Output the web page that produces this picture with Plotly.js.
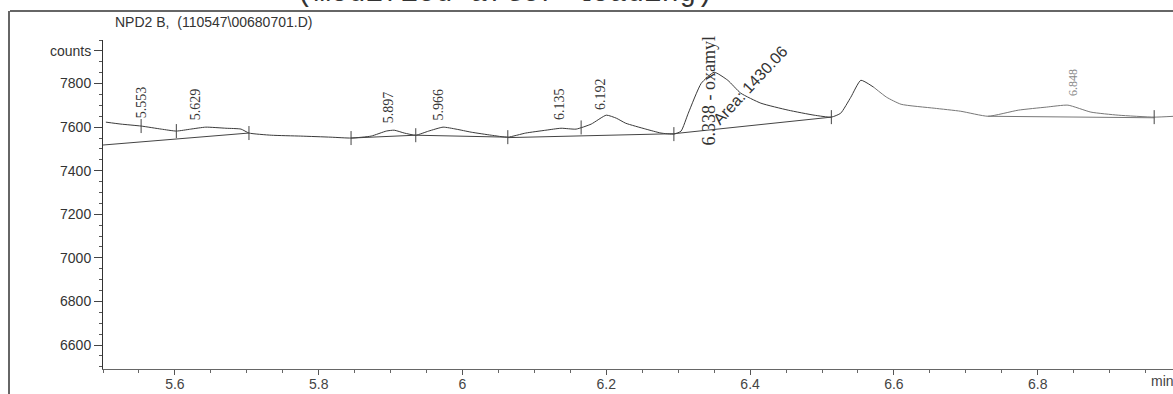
<!DOCTYPE html>
<html>
<head>
<meta charset="utf-8">
<script src="https://cdn.plot.ly/plotly-3.0.1.min.js"></script>
<style>html,body{margin:0;padding:0;background:#fff;}#chart{width:1173px;height:394px;}</style>
</head>
<body>
<div id="chart"></div>
<script>
// Retention time (min) and detector signal (counts)
const time = [5.504,5.525,5.553,5.581,5.602,5.622,5.643,5.671,5.692,5.703,5.734,5.775,5.817,5.845,5.873,5.894,5.905,5.919,5.935,5.953,5.973,5.991,6.012,6.040,6.063,6.088,6.116,6.137,6.158,6.179,6.200,6.214,6.227,6.255,6.276,6.294,6.304,6.314,6.332,6.350,6.369,6.387,6.415,6.453,6.489,6.513,6.526,6.540,6.554,6.572,6.590,6.610,6.656,6.693,6.731,6.773,6.812,6.842,6.874,6.912,6.962,6.990];
const counts = [7623,7614,7605,7591,7582,7591,7600,7595,7591,7573,7563,7559,7554,7550,7559,7582,7586,7573,7563,7582,7600,7591,7577,7563,7554,7573,7586,7595,7591,7614,7655,7641,7618,7591,7573,7568,7582,7664,7801,7852,7815,7756,7710,7678,7655,7646,7664,7737,7815,7783,7737,7705,7687,7673,7650,7678,7692,7701,7669,7655,7646,7650];

// Integration baselines: start/end time and counts
const baseStartT = [5.500, 5.845, 5.935, 6.063, 6.294, 6.731];
const baseStartC = [7518, 7550, 7563, 7552, 7570, 7650];
const baseEndT   = [5.703, 5.935, 6.063, 6.294, 6.513, 6.962];
const baseEndC   = [7573, 7563, 7554, 7570, 7646, 7643];

// Baseline tick marks (start/end of integration)
const tickTimes = [5.553, 5.602, 5.703, 5.845, 5.935, 6.063, 6.165, 6.294, 6.513, 6.962];

// Peak labels
const peakTimes = [5.553, 5.629, 5.897, 5.966, 6.135, 6.192];
const peakLabels = ['5.553', '5.629', '5.897', '5.966', '6.135', '6.192'];
const namedPeakTime = 6.338, namedPeakLabel = '6.338 - oxamyl', namedPeakArea = 'Area: 1430.06';
const minorPeakTime = 6.848, minorPeakLabel = '6.848';

// Axis ticks
const yTickVals = [6600, 6800, 7000, 7200, 7400, 7600, 7800, 7950];
const yTickText = ['6600', '6800', '7000', '7200', '7400', '7600', '7800', 'counts'];
const xTickVals = [5.6, 5.8, 6.0, 6.2, 6.4, 6.6, 6.8];
const xTickText = ['5.6', '5.8', '6', '6.2', '6.4', '6.6', '6.8'];

function interp(t) {
  for (let i = 0; i < time.length - 1; i++) {
    if (t >= time[i] && t <= time[i + 1]) {
      const f = (t - time[i]) / (time[i + 1] - time[i]);
      return counts[i] + f * (counts[i + 1] - counts[i]);
    }
  }
  return counts[counts.length - 1];
}

// split index where the printed trace gets fainter
let split = time.findIndex(t => t >= 6.572);

const traces = [];
traces.push({x: time.slice(0, split + 1), y: counts.slice(0, split + 1), type: 'scatter', mode: 'lines',
  line: {color: '#3a3a3a', width: 1, shape: 'spline', smoothing: 0.5}, hoverinfo: 'skip', showlegend: false});
traces.push({x: time.slice(split), y: counts.slice(split), type: 'scatter', mode: 'lines',
  line: {color: '#777', width: 1, shape: 'spline', smoothing: 0.5}, hoverinfo: 'skip', showlegend: false});
for (let i = 0; i < baseStartT.length; i++) {
  traces.push({x: [baseStartT[i], baseEndT[i]], y: [baseStartC[i], baseEndC[i]], type: 'scatter', mode: 'lines',
    line: {color: i === baseStartT.length - 1 ? '#777' : '#444', width: 1}, hoverinfo: 'skip', showlegend: false});
}
traces.push({x: tickTimes, y: tickTimes.map(interp), type: 'scatter', mode: 'markers',
  marker: {symbol: 'line-ns', size: 10, line: {color: '#444', width: 1}}, hoverinfo: 'skip', showlegend: false});

const W = 1173, H = 394, ml = 103, mt = 40, mb = 25;
const ph = H - mt - mb, pw = W - ml;
function px2x(px) { return (px - ml) / pw; }
function py2y(py) { return (H - mb - py) / ph; }

const ann = [];
peakTimes.forEach((t, i) => {
  ann.push({x: t, y: interp(t), xref: 'x', yref: 'y', text: peakLabels[i], showarrow: false,
    textangle: -90, xanchor: 'center', yanchor: 'bottom', yshift: 6,
    font: {family: 'Liberation Serif, serif', size: 14, color: '#333'}});
});
ann.push({x: namedPeakTime, y: 7504, xref: 'x', yref: 'y', text: namedPeakLabel, showarrow: false,
  textangle: -90, xanchor: 'center', yanchor: 'bottom', xshift: 4,
  font: {family: 'Liberation Serif, serif', size: 18, color: '#333'}});
ann.push({x: 6.400, y: 7792, xref: 'x', yref: 'y', text: namedPeakArea, showarrow: false,
  textangle: -47, xanchor: 'center', yanchor: 'middle',
  font: {family: 'Liberation Sans, Arial, sans-serif', size: 16, color: '#333'}});
ann.push({x: minorPeakTime, y: 7733, xref: 'x', yref: 'y', text: minorPeakLabel, showarrow: false,
  textangle: -90, xanchor: 'center', yanchor: 'bottom',
  font: {family: 'Liberation Serif, serif', size: 12, color: '#888'}});

ann.push({x: px2x(113), y: py2y(22), xref: 'paper', yref: 'paper', text: 'NPD2 B,  (110547\\00680701.D)',
  showarrow: false, xanchor: 'left', yanchor: 'middle',
  font: {family: 'Liberation Sans, Arial, sans-serif', size: 14, color: '#333'}});
ann.push({x: px2x(505), y: py2y(-6.5), xref: 'paper', yref: 'paper', text: '(modified after loading)',
  showarrow: false, xanchor: 'center', yanchor: 'middle',
  font: {family: 'Liberation Mono, Courier New, monospace', size: 29, color: '#333'}});
ann.push({x: px2x(1162), y: py2y(381), xref: 'paper', yref: 'paper', text: 'min',
  showarrow: false, xanchor: 'center', yanchor: 'middle',
  font: {family: 'Liberation Sans, Arial, sans-serif', size: 14, color: '#444'}});

const layout = {
  width: W, height: H,
  margin: {l: ml, r: 0, t: mt, b: mb, pad: 0},
  paper_bgcolor: '#fff', plot_bgcolor: '#fff',
  showlegend: false,
  xaxis: {range: [5.5, 5.5 + pw / 719], tickvals: xTickVals, ticktext: xTickText,
    showgrid: false, zeroline: false, showline: true, linecolor: '#666', linewidth: 1,
    ticks: 'outside', ticklen: 5, tickcolor: '#555', ticklabelstandoff: -3,
    tickfont: {family: 'Liberation Sans, Arial, sans-serif', size: 14, color: '#444'},
    minor: {dtick: 0.05, ticks: 'outside', ticklen: 3, tickcolor: '#666', showgrid: false}},
  yaxis: {range: [6490, 8000], tickvals: yTickVals, ticktext: yTickText,
    showgrid: false, zeroline: false, showline: true, linecolor: '#333', linewidth: 1,
    ticks: 'outside', ticklen: 8, tickcolor: '#444',
    tickfont: {family: 'Liberation Sans, Arial, sans-serif', size: 14, color: '#333'},
    minor: {dtick: 50, ticks: 'outside', ticklen: 3, tickcolor: '#555', showgrid: false}},
  annotations: ann,
  shapes: [
    {type: 'line', xref: 'paper', yref: 'paper', x0: px2x(10), x1: px2x(1180), y0: py2y(11), y1: py2y(11), line: {color: '#333', width: 1.5}},
    {type: 'line', xref: 'paper', yref: 'paper', x0: px2x(9), x1: px2x(9), y0: py2y(11), y1: py2y(400), line: {color: '#333', width: 1.5}}
  ]
};

Plotly.newPlot('chart', traces, layout, {displayModeBar: false, staticPlot: true});
</script>
</body>
</html>
